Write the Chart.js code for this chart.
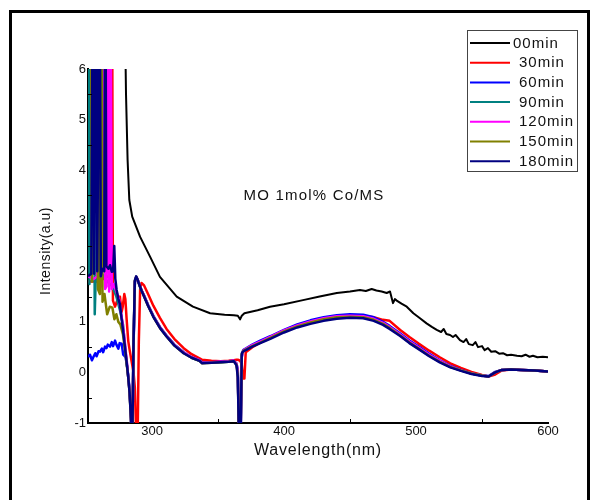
<!DOCTYPE html>
<html>
<head>
<meta charset="utf-8">
<script src="https://cdn.jsdelivr.net/npm/chart.js@4.4.1/dist/chart.umd.min.js"></script>
<style>
  body { margin: 0; background: #fff; }
  #wrap { width: 593px; height: 500px; }
</style>
</head>
<body>
<div id="wrap"><canvas id="uvChart" width="593" height="500"></canvas></div>
<script>
const FONT = "'Liberation Sans', Arial, sans-serif";

// axis ticks
const xTicks = [300, 400, 500, 600];
const xMinorTicks = [350, 450, 550];
const yMinorTicks = [-0.5, 0.5, 1.5, 2.5, 3.5, 4.5, 5.5];

const seriesNames = ['00min', '30min', '60min', '90min', '120min', '150min', '180min'];
const seriesColors = ['#000000', '#ff0000', '#0000ff', '#008080', '#ff00ff', '#808000', '#000080'];

// 00min
const wl00 = [279.5, 280.3, 281.5, 282.8, 285, 291, 298.5, 306, 318.7, 331, 344, 355, 362, 365, 366.7, 368, 370, 380, 389.4, 400,
  414.4, 427, 440, 450, 457.5, 462, 466.4, 470, 474, 477.8, 480.3, 482.6, 484, 485.4, 489, 493, 498, 503, 508, 512,
  515.7, 519, 521, 523, 525.8, 528, 530, 533.3, 536, 538, 540, 543, 545, 547, 550, 552, 554.5, 557, 560, 563,
  565.9, 569, 572, 576.5, 580, 583, 586, 588.6, 592, 596, 600];
const val00 = [7, 5.5, 4.2, 3.41, 3.08, 2.68, 2.29, 1.89, 1.50, 1.30, 1.17, 1.14, 1.13, 1.12, 1.05, 1.12, 1.17, 1.23, 1.30, 1.35,
  1.43, 1.50, 1.57, 1.60, 1.63, 1.61, 1.65, 1.62, 1.60, 1.57, 1.60, 1.37, 1.45, 1.42, 1.36, 1.30, 1.17, 1.07, 0.97, 0.90,
  0.84, 0.80, 0.86, 0.76, 0.74, 0.70, 0.74, 0.64, 0.60, 0.66, 0.56, 0.54, 0.60, 0.50, 0.52, 0.44, 0.48, 0.41, 0.42, 0.37,
  0.38, 0.34, 0.35, 0.33, 0.32, 0.35, 0.31, 0.33, 0.30, 0.31, 0.30];

// shared wavelength grid (nm) for the 30-180min curves from 283 nm on
const tailWl = [283, 284, 285, 286, 287, 288, 289, 290, 291, 292,
  294, 297, 301, 306, 311, 317, 324, 330, 336, 338,
  345, 352, 358, 362, 364, 365, 366, 367, 368, 369,
  370, 371, 376, 382, 390, 400, 410, 420, 430, 440,
  450, 460, 468, 475, 480, 488, 495, 502, 510, 518,
  526, 534, 542, 550, 555, 560, 565, 572, 580, 590,
  600];

// 30min
const head30Wl = [251.5, 260, 266, 268.8, 269.6, 270.4, 272, 274, 275.7, 277, 277.8, 279, 279.8, 280.8, 282];
const head30 = [1.8, 1.8, 1.9, 1.85, 9, 1.42, 1.30, 1.45, 1.50, 1.2, 1.30, 1.55, 1.45, 1.04, 0.62];
const tail30 = [0.45, 0.30, 0.15, 0.0, -0.3, -1.2, -1.5, 0.6, 1.65, 1.77,
  1.72, 1.55, 1.32, 1.08, 0.86, 0.66, 0.48, 0.36, 0.28, 0.25,
  0.23, 0.22, 0.23, 0.24, 0.25, 0.25, 0.24, 0.22, 0.15, -0.12,
  -0.12, 0.40, 0.50, 0.59, 0.69, 0.81, 0.92, 1.00, 1.06, 1.10,
  1.12, 1.12, 1.09, 1.04, 1.02, 0.84, 0.70, 0.57, 0.43, 0.30,
  0.18, 0.09, 0.01, -0.05, -0.08, -0.04, 0.04, 0.06, 0.05, 0.04,
  0.02];

// 60min
const head60Wl = [251.5, 253, 254.5, 255.5, 257, 258, 259.5, 260.6, 262, 263, 264.4, 265.5, 266.5, 268.2, 269.5, 270.5, 272, 273, 274.5, 275.5, 277, 278.2, 280, 281.5, 282.5];
const head60 = [0.31, 0.35, 0.24, 0.30, 0.38, 0.32, 0.42, 0.41, 0.47, 0.40, 0.51, 0.48, 0.55, 0.51, 0.60, 0.52, 0.63, 0.55, 0.47, 0.58, 0.57, 0.35, 0.30, 0.05, -0.2];
const tail60 = [-0.35, -0.85, -1.5, 0.5, 1.78, 1.88, 1.84, 1.77, 1.70, 1.63,
  1.52, 1.34, 1.12, 0.90, 0.73, 0.55, 0.40, 0.30, 0.24, 0.20,
  0.20, 0.21, 0.22, 0.23, 0.18, 0.05, -1.5, -1.5, 0.30, 0.44,
  0.46, 0.47, 0.55, 0.63, 0.72, 0.84, 0.95, 1.03, 1.09, 1.13,
  1.15, 1.14, 1.09, 1.00, 0.92, 0.77, 0.63, 0.51, 0.37, 0.24,
  0.13, 0.05, -0.02, -0.06, -0.07, 0.01, 0.05, 0.06, 0.05, 0.04,
  0.02];

// 90min
const head90Wl = [251.5, 252.6, 253.4, 255.6, 256.6, 257.4, 259, 262, 266, 270, 273, 276, 278, 280, 282];
const head90 = [9, 1.75, 9, 9, 1.15, 1.9, 1.85, 1.95, 1.8, 1.7, 1.5, 1.2, 0.95, 0.4, -0.1];
const tail90 = [-0.38, -0.88, -1.5, 0.55, 1.8, 1.89, 1.84, 1.76, 1.69, 1.62,
  1.51, 1.33, 1.11, 0.89, 0.72, 0.54, 0.39, 0.29, 0.23, 0.19,
  0.19, 0.20, 0.21, 0.22, 0.16, 0.0, -1.5, -1.5, 0.34, 0.42,
  0.44, 0.45, 0.53, 0.60, 0.70, 0.82, 0.92, 1.00, 1.06, 1.10,
  1.11, 1.10, 1.05, 0.97, 0.89, 0.74, 0.60, 0.48, 0.34, 0.22,
  0.11, 0.04, -0.02, -0.06, -0.08, 0.0, 0.05, 0.06, 0.05, 0.04,
  0.02];

// 120min
const head120Wl = [251.5, 256, 258.5, 259.3, 260.3, 262, 263.5, 264.5, 265.5, 266.5, 267.5, 268.5, 269.5, 271, 273, 275, 277, 279, 281, 282];
const head120 = [1.9, 1.85, 1.9, 9, 1.75, 1.7, 9, 1.65, 1.7, 9, 1.6, 9, 1.65, 1.75, 1.6, 1.45, 1.1, 0.7, 0.2, -0.1];
const tail120 = [-0.36, -0.86, -1.5, 0.52, 1.79, 1.89, 1.85, 1.77, 1.70, 1.63,
  1.51, 1.33, 1.11, 0.89, 0.72, 0.54, 0.39, 0.30, 0.24, 0.19,
  0.20, 0.21, 0.22, 0.23, 0.17, 0.02, -1.5, -1.5, 0.32, 0.43,
  0.45, 0.46, 0.54, 0.61, 0.71, 0.83, 0.93, 1.01, 1.07, 1.11,
  1.12, 1.11, 1.06, 0.98, 0.90, 0.75, 0.61, 0.49, 0.35, 0.23,
  0.12, 0.04, -0.02, -0.06, -0.08, 0.0, 0.05, 0.06, 0.05, 0.04,
  0.02];

// 150min
const head150Wl = [251.5, 253.5, 254.5, 255.3, 258, 259, 260.5, 261.5, 262.5, 264, 266, 268, 270, 271.5, 273, 274.5, 276, 278, 280, 282];
const head150 = [9, 9, 1.8, 9, 9, 1.65, 1.55, 9, 1.4, 1.55, 1.15, 1.3, 1.28, 1.05, 1.15, 1.0, 0.95, 0.75, 0.35, -0.1];
const tail150 = [-0.4, -0.9, -1.5, 0.58, 1.81, 1.89, 1.84, 1.76, 1.69, 1.62,
  1.50, 1.32, 1.10, 0.88, 0.71, 0.53, 0.38, 0.29, 0.23, 0.18,
  0.19, 0.20, 0.21, 0.22, 0.15, -0.05, -1.5, -1.5, 0.36, 0.42,
  0.44, 0.45, 0.52, 0.59, 0.69, 0.81, 0.91, 0.99, 1.05, 1.09,
  1.10, 1.09, 1.04, 0.96, 0.88, 0.73, 0.59, 0.47, 0.33, 0.21,
  0.11, 0.04, -0.02, -0.06, -0.08, 0.0, 0.05, 0.06, 0.05, 0.04,
  0.02];

// 180min
const head180Wl = [251.5, 254, 255.2, 256.2, 257.2, 258.5, 260.3, 261.2, 262.2, 263.8, 264.6, 265.4, 267, 268.2, 269.5, 270.5, 271.4, 272.2, 273.2, 274.5, 275.7, 277, 278.2, 279.5, 280.8, 282];
const head180 = [1.9, 1.95, 9, 1.95, 9, 2.0, 9, 1.9, 2.05, 2.0, 9, 2.1, 2.05, 2.12, 1.99, 2.0, 2.5, 1.85, 1.63, 1.45, 1.35, 1.05, 0.8, 0.5, 0.2, -0.1];
const tail180 = [-0.4, -0.9, -1.5, 0.6, 1.82, 1.90, 1.84, 1.76, 1.69, 1.62,
  1.50, 1.32, 1.10, 0.88, 0.71, 0.53, 0.38, 0.29, 0.23, 0.18,
  0.19, 0.20, 0.21, 0.22, 0.14, -0.1, -1.5, -1.5, 0.38, 0.41,
  0.43, 0.44, 0.51, 0.58, 0.67, 0.79, 0.89, 0.96, 1.02, 1.06,
  1.08, 1.07, 1.02, 0.94, 0.86, 0.72, 0.58, 0.46, 0.32, 0.20,
  0.10, 0.03, -0.03, -0.07, -0.08, 0.0, 0.05, 0.06, 0.05, 0.04,
  0.02];

function toPoints(wl, vals) {
  return wl.map((w, i) => ({ x: w, y: vals[i] }));
}

function spectrum(i, wl, vals, order) {
  return {
    label: seriesNames[i],
    data: toPoints(wl, vals),
    borderColor: seriesColors[i],
    borderWidth: i === 0 ? 2 : 2.5,
    borderJoinStyle: 'round',
    showLine: true,
    pointRadius: 0,
    fill: false,
    tension: 0,
    order
  };
}

// draws frame, titles, label inside the plot, legend and the small minor ticks
const decorPlugin = {
  id: 'decor',
  afterDraw(chart) {
    const { ctx, chartArea: a, scales: { x, y } } = chart;
    ctx.save();
    ctx.strokeStyle = '#000';
    ctx.lineWidth = 1;
    xMinorTicks.forEach(v => {
      const px = Math.round(x.getPixelForValue(v)) + 0.5;
      ctx.beginPath();
      ctx.moveTo(px, a.bottom);
      ctx.lineTo(px, a.bottom - 4);
      ctx.stroke();
    });
    yMinorTicks.forEach(v => {
      const py = Math.round(y.getPixelForValue(v)) + 0.5;
      ctx.beginPath();
      ctx.moveTo(a.left, py);
      ctx.lineTo(a.left + 4, py);
      ctx.stroke();
    });

    // outer frame
    ctx.lineWidth = 3;
    ctx.strokeRect(10.5, 11.5, 578, 500);

    ctx.fillStyle = '#111';
    ctx.textAlign = 'center';
    ctx.textBaseline = 'middle';

    ctx.font = '16px ' + FONT;
    ctx.letterSpacing = '0.8px';
    ctx.fillText('Wavelength(nm)', 318, 451);

    ctx.font = '14px ' + FONT;
    ctx.letterSpacing = '0.5px';
    ctx.save();
    ctx.translate(46, 251);
    ctx.rotate(-Math.PI / 2);
    ctx.fillText('Intensity(a.u)', 0, 0);
    ctx.restore();

    ctx.font = '15px ' + FONT;
    ctx.letterSpacing = '1.2px';
    ctx.fillText('MO 1mol% Co/MS', 314, 196);

    // legend
    ctx.lineWidth = 1;
    ctx.strokeStyle = '#444';
    ctx.strokeRect(467.5, 30.5, 110, 141);
    ctx.textAlign = 'left';
    ctx.font = '15px ' + FONT;
    ctx.letterSpacing = '1px';
    seriesNames.forEach((name, i) => {
      const ly = 43 + i * 19.7;
      ctx.strokeStyle = seriesColors[i];
      ctx.lineWidth = 2;
      ctx.beginPath();
      ctx.moveTo(470, ly);
      ctx.lineTo(510, ly);
      ctx.stroke();
      ctx.fillText(name, i === 0 ? 513 : 519, ly + 0.5);
    });
    ctx.restore();
  }
};

new Chart(document.getElementById('uvChart'), {
  type: 'scatter',
  data: {
    datasets: [
      spectrum(0, wl00, val00, 0),
      spectrum(1, head30Wl.concat(tailWl), head30.concat(tail30), 6),
      spectrum(2, head60Wl.concat(tailWl), head60.concat(tail60), 5),
      spectrum(3, head90Wl.concat(tailWl), head90.concat(tail90), 4),
      spectrum(4, head120Wl.concat(tailWl), head120.concat(tail120), 3),
      spectrum(5, head150Wl.concat(tailWl), head150.concat(tail150), 2),
      spectrum(6, head180Wl.concat(tailWl), head180.concat(tail180), 1)
    ]
  },
  options: {
    responsive: false,
    animation: false,
    devicePixelRatio: 1,
    layout: { padding: { left: 58, right: 45, top: 69, bottom: 57 } },
    plugins: { legend: { display: false }, tooltip: { enabled: false } },
    scales: {
      x: {
        type: 'linear',
        min: 251.5,
        max: 600,
        afterBuildTicks: s => { s.ticks = xTicks.map(v => ({ value: v })); },
        afterFit: s => { s.height = 20; },
        ticks: { font: { size: 13, family: FONT }, color: '#111', padding: 1, maxRotation: 0 },
        grid: { display: false, drawTicks: false },
        border: { display: true, color: '#000', width: 2 }
      },
      y: {
        min: -1,
        max: 6,
        afterFit: s => { s.width = 30; },
        ticks: { stepSize: 1, font: { size: 13, family: FONT }, color: '#111', padding: 2 },
        grid: { display: false, drawTicks: false },
        border: { display: true, color: '#000', width: 2 }
      }
    }
  },
  plugins: [decorPlugin]
});
</script>
</body>
</html>
